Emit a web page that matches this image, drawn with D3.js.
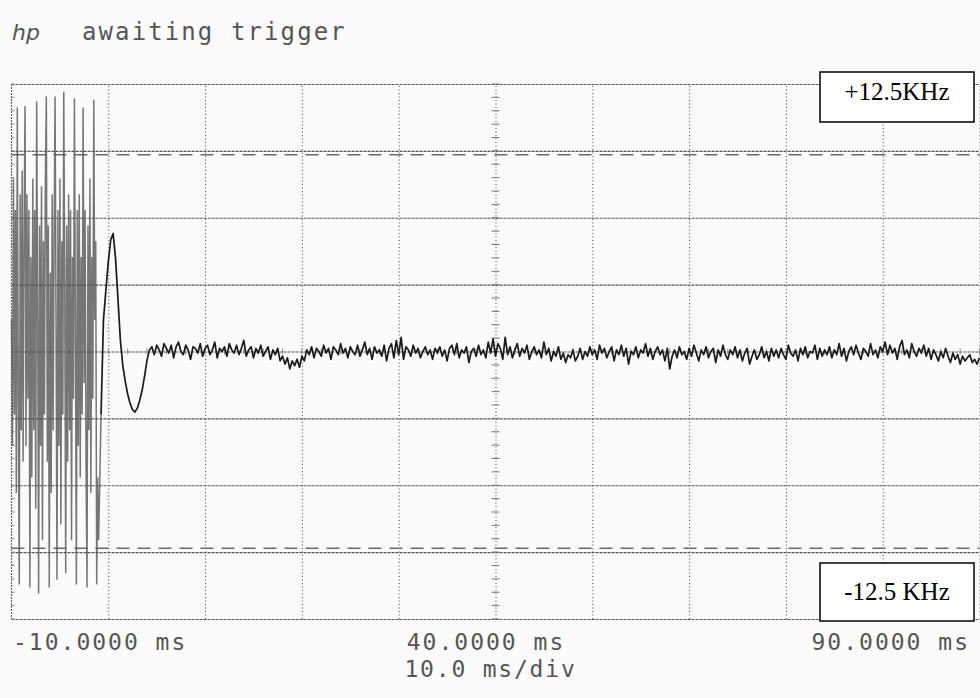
<!DOCTYPE html>
<html><head><meta charset="utf-8">
<script src="https://cdn.jsdelivr.net/npm/d3@7"></script>
<style>body{margin:0;background:#fff;} svg{display:block;}</style>
</head><body>
<svg id="c" width="980" height="698"></svg>
<script>
// ---------- data ----------
const headerLogo = "hp";
const headerText = "awaiting trigger";
const xTickValues = [-10, 40, 90];
const xTickLabels = ["-10.0000 ms", "40.0000 ms", "90.0000 ms"];
const timePerDiv = "10.0 ms/div";
const limitValues = [12.5, -12.5];
const limitLabels = ["+12.5KHz", "-12.5 KHz"];
const xDomain = [-10, 90];
const yDomain = [-17, 17];     // kHz, 8 vertical divisions
const xDivisions = 10, yDivisions = 8;

// burst before trigger: samples every 0.1 ms from -10 ms (kHz)
const burstStart = -10, burstStep = 0.1;
const burstValues = [
  2, -6, 11, -4, 9, -9, 15.5, -3, -14.8, 10,
  -5, 11.5, -7, 8, 15.6, -6, 10, -3, 9, -15.0,
  6, -8, 11, -5, 9, -10, 15.9, 3, -15.4, 8,
  -6, 10.5, -12, 7, -4, 11, 16.2, -7, 8, -15.0,
  5, -9, 10, -5, 7, 16.2, 2, -14.5, 9, -6,
  11, -11, 7, -4, 16.5, 4, -14.1, 8, -7, 10,
  -5, 9, -12, 6, -3, 16.1, 2, -14.8, 9, -6,
  10, -8, 6, -4, 15.5, -2, 9, -7, -15.0, 8,
  -5, 11, -9, 6, -3, 16.0, 2, 7, -14.8, -8, -12
];

// settling transient + noise: samples every 0.25 ms from -0.75 ms (kHz)
const traceStart = -0.75, traceStep = 0.25;
const transientValues = [
  -4.0, 2.0, 3.9, 5.7, 7.1, 7.5, 5.9, 3.3, 0.7, -0.9,
  -1.9, -2.7, -3.3, -3.7, -3.85, -3.6, -3.1, -2.45, -1.55, -0.55, 0.1
];
const noiseValues = [
  0.3, -0.2, 0.4, 0.1, -0.3, 0.5, 0.2, -0.1, 0.4, -0.4, 0.3, 0.6, 0.0, -0.2, 0.4, 0.1, -0.5, 0.3, 0.2, -0.1,
  0.5, -0.3, 0.2, 0.4, -0.2, 0.1, 0.6, -0.4, 0.2, 0.0, 0.3, -0.3, 0.5, 0.1, -0.1, 0.4, -0.2, 0.2, 0.7, -0.3,
  0.1, 0.3, -0.4, 0.2, -0.1, 0.4, -0.3, 0.0, 0.3, -0.5, 0.1, -0.2, 0.2, -0.6, -0.3, -0.8, -0.4, -1.1, -0.6, -0.9,
  -0.5, -1.0, -0.3, -0.6, 0.1, -0.2, 0.3, -0.4, 0.2, 0.0, -0.3, 0.4, -0.1, 0.2, -0.5, 0.3, 0.1, -0.2, 0.5, -0.1,
  0.2, -0.4, 0.3, 0.0, -0.2, 0.4, -0.3, 0.1, 0.6, -0.2, 0.2, -0.5, 0.3, -0.1, 0.1, -0.3, 0.4, -0.6, 0.2, 0.5,
  -0.4, 0.7, -0.2, 0.9, -0.5, 0.3, 0.1, -0.3, 0.4, -0.1, 0.2, -0.4, 0.0, 0.3, -0.2, 0.1, -0.5, 0.2, -0.1, 0.3,
  -0.3, 0.1, -0.6, 0.2, 0.4, -0.2, 0.5, -0.4, 0.1, -0.1, 0.3, -0.7, 0.0, 0.2, -0.3, 0.4, -0.2, 0.1, -0.4, 0.6,
  -0.1, 0.8, -0.3, 0.5, 0.2, -0.5, 0.9, -0.2, 0.3, -0.4, 0.1, 0.5, -0.3, 0.2, -0.1, 0.4, -0.5, 0.0, 0.3, -0.2,
  0.1, -0.4, 0.6, -0.2, 0.2, -0.6, 0.0, -0.3, 0.3, -0.5, -0.1, -0.7, -0.2, -0.4, 0.1, -0.6, -0.3, 0.2, -0.5, 0.0,
  -0.3, 0.3, -0.2, 0.1, -0.5, 0.4, -0.1, 0.2, -0.4, 0.0, 0.3, -0.6, 0.1, -0.2, 0.4, -0.3, 0.2, -0.8, 0.0, -0.2,
  0.3, -0.4, 0.1, -0.1, 0.5, -0.3, 0.2, -0.5, 0.0, 0.3, -0.2, 0.1, -0.6, 0.2, -1.1, -0.3, 0.1, -0.4, 0.3, -0.2,
  0.0, -0.5, 0.2, -0.3, 0.4, -0.1, -0.6, 0.1, -0.2, 0.3, -0.4, 0.0, 0.2, -0.7, 0.1, -0.3, 0.4, -0.2, -0.5, 0.1,
  -0.2, 0.3, -0.4, 0.1, -0.6, -0.1, 0.2, -0.8, -0.3, 0.1, -0.5, -0.2, 0.3, -0.4, 0.0, -0.6, 0.2, -0.3, 0.1, -0.4,
  0.2, -0.2, -0.5, 0.4, -0.1, -0.3, 0.1, -0.6, 0.2, -0.2, 0.3, -0.4, 0.0, -0.1, 0.4, -0.5, 0.2, -0.3, 0.1, -0.2,
  0.3, -0.4, 0.1, -0.2, 0.5, -0.3, 0.2, -0.6, 0.0, 0.3, -0.2, 0.4, -0.1, -0.5, 0.2, 0.0, -0.3, 0.5, -0.2, 0.1,
  -0.4, 0.3, 0.0, 0.6, -0.2, 0.4, -0.1, 0.2, -0.5, 0.3, 0.7, -0.2, 0.1, -0.4, 0.5, 0.0, -0.3, 0.2, -0.1, 0.4,
  -0.3, 0.2, -0.5, 0.1, -0.2, -0.6, 0.0, -0.4, 0.2, -0.3, -0.7, -0.1, -0.5, -0.2, -0.8, -0.3, -0.6, -0.4, -0.2, -0.7,
  -0.5, -0.8, -0.4
];

// ---------- drawing ----------
const svg = d3.select("#c");
const W = 980, H = 698;
const plot = {left: 11.5, right: 979.5, top: 84, bottom: 619};
const x = d3.scaleLinear().domain(xDomain).range([plot.left, plot.right]);
const y = d3.scaleLinear().domain(yDomain).range([plot.bottom, plot.top]);

svg.append("rect").attr("width", W).attr("height", H).attr("fill", "#fbfbfb");

const xGrid = d3.range(xDivisions + 1).map(i => xDomain[0] + i * (xDomain[1] - xDomain[0]) / xDivisions);
const yGrid = d3.range(yDivisions + 1).map(i => yDomain[0] + i * (yDomain[1] - yDomain[0]) / yDivisions);
const xMid = (xDomain[0] + xDomain[1]) / 2;
const yMid = (yDomain[0] + yDomain[1]) / 2;

// horizontal grid lines (dense dotted)
svg.append("g").call(
  d3.axisLeft(y).tickValues(yGrid).tickSize(-(plot.right - plot.left)).tickFormat(""))
  .attr("transform", `translate(${plot.left},0)`)
  .call(g => g.select(".domain").remove())
  .call(g => g.selectAll("line").attr("stroke", "#555").attr("stroke-width", 1.2).attr("stroke-dasharray", "3,1"));

// vertical grid lines (fine dotted)
svg.append("g").call(
  d3.axisBottom(x).tickValues(xGrid.slice(1)).tickSize(-(plot.bottom - plot.top)).tickFormat(""))
  .attr("transform", `translate(0,${plot.bottom})`)
  .call(g => g.select(".domain").remove())
  .call(g => g.selectAll("line").attr("stroke", "#555").attr("stroke-width", 1.1).attr("stroke-dasharray", "1,2.5"));

// left border
svg.append("line").attr("x1", x(xDomain[0])).attr("x2", x(xDomain[0]))
  .attr("y1", plot.top).attr("y2", plot.bottom)
  .attr("stroke", "#666").attr("stroke-width", 1.2).attr("stroke-dasharray", "2,1");

// minor ticks on the centre crosshair and left border
const yMinor = d3.range(yDivisions * 5 + 1).map(i => yDomain[0] + i * (yDomain[1] - yDomain[0]) / (yDivisions * 5));
const xMinor = d3.range(xDivisions * 5 + 1).map(i => xDomain[0] + i * (xDomain[1] - xDomain[0]) / (xDivisions * 5));
svg.append("g").selectAll("line").data(yMinor).join("line")
  .attr("x1", x(xMid) - 4).attr("x2", x(xMid) + 4)
  .attr("y1", d => y(d)).attr("y2", d => y(d))
  .attr("stroke", "#777").attr("stroke-width", 1);
svg.append("g").selectAll("line").data(yMinor).join("line")
  .attr("x1", x(xDomain[0])).attr("x2", x(xDomain[0]) + 3)
  .attr("y1", d => y(d)).attr("y2", d => y(d))
  .attr("stroke", "#888").attr("stroke-width", 1);
svg.append("g").selectAll("line").data(xMinor).join("line")
  .attr("x1", d => x(d)).attr("x2", d => x(d))
  .attr("y1", y(yMid) - 3).attr("y2", y(yMid) + 3)
  .attr("stroke", "#888").attr("stroke-width", 1);

// limit lines ±12.5 kHz
svg.append("g").selectAll("line").data(limitValues).join("line")
  .attr("x1", plot.left).attr("x2", plot.right)
  .attr("y1", d => y(d)).attr("y2", d => y(d))
  .attr("stroke", "#6a6a6a").attr("stroke-width", 1.6).attr("stroke-dasharray", "13,8");

// traces
const burstPts = burstValues.map((v, i) => [burstStart + i * burstStep, v]);
const tracePts = transientValues.concat(noiseValues).map((v, i) => [traceStart + i * traceStep, v]);
const line = d3.line().x(d => x(d[0])).y(d => y(d[1]));

svg.append("path").datum(burstPts.concat([tracePts[0]]))
  .attr("d", line).attr("fill", "none")
  .attr("stroke", "#555").attr("stroke-opacity", 0.8).attr("stroke-width", 1.5);
svg.append("path").datum(tracePts)
  .attr("d", line).attr("fill", "none")
  .attr("stroke", "#1a1a1a").attr("stroke-width", 1.7).attr("stroke-linejoin", "round");

// header
svg.append("text").attr("x", 12).attr("y", 40).text(headerLogo)
  .attr("font-family", "DejaVu Sans").attr("font-style", "italic").attr("font-size", 22)
  .attr("fill", "#555");
svg.append("text").attr("x", 82).attr("y", 40).text(headerText)
  .attr("font-family", "DejaVu Sans Mono").attr("font-size", 24)
  .attr("letter-spacing", 2.1).attr("fill", "#555");

// x labels
const lab = svg.append("g").attr("transform", `translate(0,${plot.bottom})`)
  .call(d3.axisBottom(x).tickValues(xTickValues).tickSize(0)
    .tickFormat((d, i) => xTickLabels[i]));
lab.select(".domain").remove();
lab.selectAll("text")
  .attr("font-family", "DejaVu Sans Mono").attr("font-size", 23)
  .attr("letter-spacing", 2.0).attr("fill", "#555")
  .attr("y", 31).attr("dy", 0)
  .attr("text-anchor", (d, i) => i === 0 ? "start" : (i === 2 ? "end" : "middle"))
  .attr("dx", (d, i) => i === 0 ? 1 : -10);
svg.append("text").attr("x", x(xMid) - 5).attr("y", 677).attr("text-anchor", "middle")
  .text(timePerDiv)
  .attr("font-family", "DejaVu Sans Mono").attr("font-size", 23)
  .attr("letter-spacing", 1.8).attr("fill", "#555");

// limit label boxes
const boxes = [
  {label: limitLabels[0], top: 72, h: 50, base: 100},
  {label: limitLabels[1], top: 563, h: 58, base: 600}
];
const bx = svg.append("g").selectAll("g").data(boxes).join("g");
bx.append("rect").attr("x", 820).attr("y", d => d.top).attr("width", 154).attr("height", d => d.h)
  .attr("fill", "#fff").attr("stroke", "#000").attr("stroke-width", 1.5);
bx.append("text").attr("x", 897).attr("y", d => d.base).attr("text-anchor", "middle")
  .text(d => d.label)
  .attr("font-family", "Liberation Serif").attr("font-size", 25).attr("fill", "#000");
</script>
</body></html>
